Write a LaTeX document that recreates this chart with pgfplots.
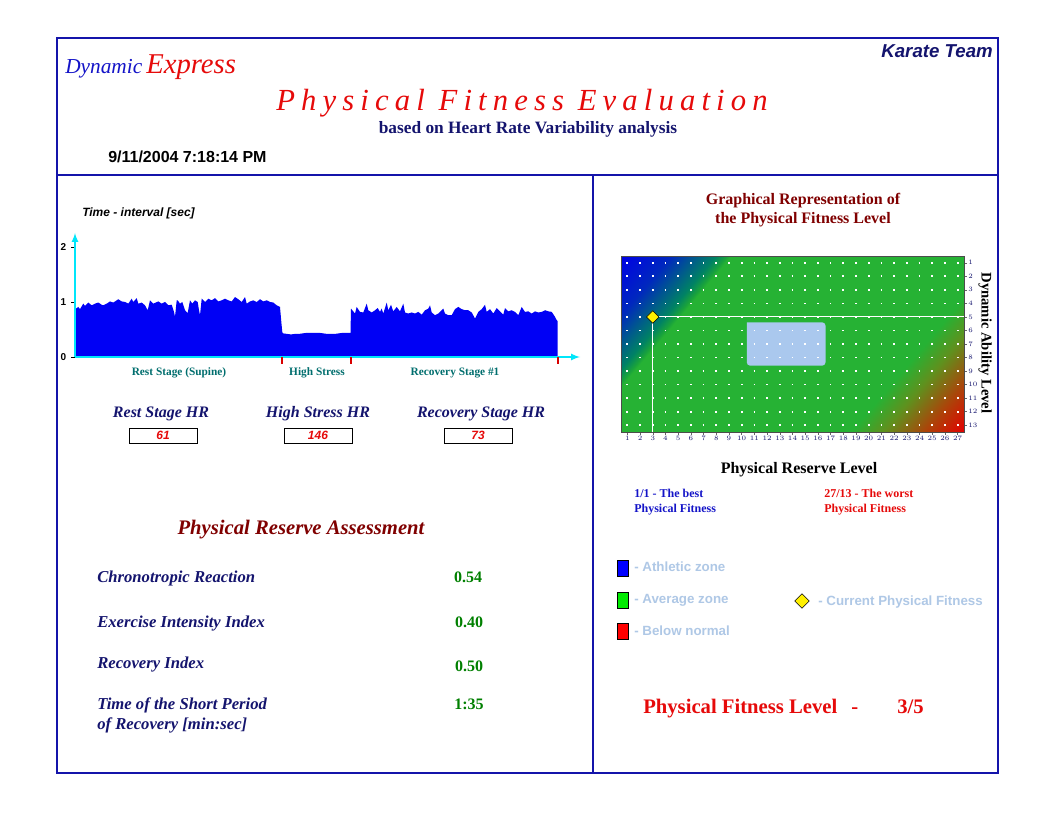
\documentclass[border=0pt]{standalone}
\usepackage{pgfplots}
\pgfplotsset{compat=1.18}
\usepackage{fontspec}
\setmainfont{Liberation Serif}
\setsansfont{Liberation Sans}
\newfontfamily\spaced[LetterSpace=20]{Liberation Serif}
\usetikzlibrary{shapes.geometric}

\newcommand{\fsz}[1]{\fontsize{#1}{#1}\selectfont}

\definecolor{frameblue}{RGB}{20,20,170}
\definecolor{navytxt}{RGB}{20,20,110}
\definecolor{dynblue}{RGB}{20,20,200}
\definecolor{tred}{RGB}{230,10,10}
\definecolor{darkred}{RGB}{128,0,0}
\definecolor{pgreen}{RGB}{0,128,0}
\definecolor{stageteal}{RGB}{0,110,110}
\definecolor{axcyan}{RGB}{0,230,250}
\definecolor{hrblue}{RGB}{0,0,245}
\definecolor{legtxt}{RGB}{175,200,230}
\definecolor{boxblue}{RGB}{170,200,238}
\definecolor{dotyellow}{RGB}{255,240,0}

% R-R interval trace, x in pixels from the y axis, y in seconds
\pgfplotstableread{
x y
0.5 0.86
1 0.88
3.3 0.91
5 0.87
8.3 0.97
10 0.93
13.3 0.99
16.7 0.94
20 0.97
23.3 0.99
26.7 0.95
28.3 0.94
31.7 0.97
35 1.01
38.3 0.99
43.3 1.05
46.7 1.01
50 1.00
53.3 0.97
56.7 1.06
58.3 1.00
61.7 1.07
63.3 0.97
66.7 0.99
70 0.94
72.7 0.85
75 1.03
78.3 0.97
83.3 1.01
86.7 0.97
90 1.00
93.3 0.94
96.7 0.95
99 0.82
100 0.73
101.7 1.03
102.7 1.03
105 0.97
107.3 1.00
110 0.85
112.7 0.80
115 1.03
117.3 0.97
120 1.03
122.7 1.00
124 0.85
125 0.76
126.7 1.06
130 1.00
133.3 1.06
136.7 1.03
140 1.07
143.3 1.01
146.7 1.03
150 1.06
153.3 1.03
156.7 1.01
160 1.09
163.3 1.05
166.7 1.00
170 1.09
171.7 0.97
175 1.01
178.3 1.03
181.7 1.00
185 1.05
188.3 1.01
191.7 1.03
195 1.00
198.3 0.99
201.7 0.94
205 0.91
206.3 0.64
207.3 0.45
208 0.43
212 0.42
216 0.41
220 0.42
224 0.42
228 0.43
232 0.44
236 0.44
240 0.44
244 0.44
248 0.43
252 0.42
256 0.42
260 0.42
264 0.43
268 0.44
272 0.44
275.5 0.44
276 0.88
280 0.79
281.7 0.91
285 0.82
288.3 0.81
291.7 0.97
293.3 0.85
296.7 0.81
300 0.85
302.7 0.89
305 0.82
306.7 0.88
308.3 0.79
311.7 0.99
313.3 0.85
316 0.95
318.3 0.83
321.7 0.91
325 0.83
328.3 0.97
330 0.81
333.3 0.79
336.7 0.81
340 0.79
343.3 0.82
346.7 0.77
350 0.85
353.3 0.88
355 0.94
356.7 0.81
360 0.76
363.3 0.79
366.7 0.85
368.3 0.88
370 0.79
373.3 0.76
376.7 0.76
380 0.87
383.3 0.91
386.7 0.87
390 0.85
393.3 0.85
396.7 0.81
400 0.70
403.3 0.82
406.7 0.87
410 0.95
411.7 0.82
415 0.87
418.3 0.79
421.7 0.89
425 0.83
428.3 0.77
430 0.89
433.3 0.83
436.7 0.85
440 0.82
443.3 0.76
446.7 0.91
450 0.82
453.3 0.83
456.7 0.79
460 0.83
463.3 0.81
466.7 0.82
470 0.85
473.3 0.83
476.7 0.82
480 0.73
481.7 0.67
482.7 0.65
}\rrdata

\begin{document}
\begin{tikzpicture}
% page-pixel coordinates: 1px = 0.75pt, y down
\begin{scope}[x=0.75pt, y=-0.75pt]
\fill[white] (0,0) rectangle (1056,816);
\path[use as bounding box] (0,0) rectangle (1056,816);

% frame
\draw[frameblue, line width=0.8pt] (57,38) rectangle (998,773);
\draw[frameblue, line width=0.8pt] (57,175) -- (998,175);
\draw[frameblue, line width=1.4pt] (593,175) -- (593,773);

% header
\node[anchor=base west, inner sep=0, text=dynblue, font=\itshape\fsz{16}] at (65,74) {Dynamic};
\node[anchor=base west, inner sep=0, text=tred, font=\itshape\fsz{21.5}] at (146,74) {Express};
\node[anchor=base east, inner sep=0, text=navytxt, font=\sffamily\bfseries\itshape\fsz{14}] at (993,58) {Karate Team};
\node[anchor=base, inner sep=0, text=tred, font=\spaced\itshape\fsz{23}] at (522,111) {Physical Fitness Evaluation};
\node[anchor=base, inner sep=0, text=navytxt, font=\bfseries\fsz{13}] at (528,134) {based on Heart Rate Variability analysis};
\node[anchor=base west, inner sep=0, font=\sffamily\bfseries\fsz{12}] at (108,163) {9/11/2004 7:18:14 PM};

\node[anchor=base west, inner sep=0, font=\sffamily\bfseries\itshape\fsz{9}] at (82,217) {Time - interval [sec]};
\node[anchor=base, inner sep=0, text=stageteal, font=\bfseries\fsz{8.5}] at (179,375) {Rest Stage (Supine)};
\node[anchor=base, inner sep=0, text=stageteal, font=\bfseries\fsz{8.5}] at (317,375) {High Stress};
\node[anchor=base, inner sep=0, text=stageteal, font=\bfseries\fsz{8.5}] at (455,375) {Recovery Stage \#1};

% stage heart rates
\node[anchor=base, inner sep=0, text=navytxt, font=\bfseries\itshape\fsz{12}] at (161,417) {Rest Stage HR};
\node[anchor=base, inner sep=0, text=navytxt, font=\bfseries\itshape\fsz{12}] at (318,417) {High Stress HR};
\node[anchor=base, inner sep=0, text=navytxt, font=\bfseries\itshape\fsz{12}] at (481,417) {Recovery Stage HR};
\draw[black, line width=0.6pt] (129,428) rectangle (197,443);
\draw[black, line width=0.6pt] (284,428) rectangle (352,443);
\draw[black, line width=0.6pt] (444,428) rectangle (512,443);
\node[text=tred, font=\sffamily\bfseries\itshape\fsz{9}] at (163,435.5) {61};
\node[text=tred, font=\sffamily\bfseries\itshape\fsz{9}] at (318,435.5) {146};
\node[text=tred, font=\sffamily\bfseries\itshape\fsz{9}] at (478,435.5) {73};

% assessment
\node[anchor=base, inner sep=0, text=darkred, font=\bfseries\itshape\fsz{15.5}] at (301,534) {Physical Reserve Assessment};
\node[anchor=base west, inner sep=0, text=navytxt, font=\bfseries\itshape\fsz{12.5}] at (97,582) {Chronotropic Reaction};
\node[anchor=base west, inner sep=0, text=navytxt, font=\bfseries\itshape\fsz{12.5}] at (97,627) {Exercise Intensity Index};
\node[anchor=base west, inner sep=0, text=navytxt, font=\bfseries\itshape\fsz{12.5}] at (97,668) {Recovery Index};
\node[anchor=base west, inner sep=0, text=navytxt, font=\bfseries\itshape\fsz{12.5}] at (97,709) {Time of the Short Period};
\node[anchor=base west, inner sep=0, text=navytxt, font=\bfseries\itshape\fsz{12.5}] at (97,729) {of Recovery [min:sec]};
\node[anchor=base, inner sep=0, text=pgreen, font=\bfseries\fsz{12}] at (468,582) {0.54};
\node[anchor=base, inner sep=0, text=pgreen, font=\bfseries\fsz{12}] at (469,627) {0.40};
\node[anchor=base, inner sep=0, text=pgreen, font=\bfseries\fsz{12}] at (469,671) {0.50};
\node[anchor=base, inner sep=0, text=pgreen, font=\bfseries\fsz{12}] at (469,709) {1:35};

% right panel
\node[anchor=base, inner sep=0, text=darkred, font=\bfseries\fsz{12}] at (803,205) {Graphical Representation of};
\node[anchor=base, inner sep=0, text=darkred, font=\bfseries\fsz{12}] at (803,224) {the Physical Fitness Level};
\node[rotate=-90, inner sep=0, font=\bfseries\fsz{11}] at (985,343) {Dynamic Ability Level};

\node[anchor=base, inner sep=0, font=\bfseries\fsz{12}] at (799,473) {Physical Reserve Level};
\node[anchor=base west, inner sep=0, text=dynblue, font=\bfseries\fsz{9}] at (634,497) {1/1 - The best};
\node[anchor=base west, inner sep=0, text=dynblue, font=\bfseries\fsz{9}] at (634,512) {Physical Fitness};
\node[anchor=base west, inner sep=0, text=tred, font=\bfseries\fsz{9}] at (824,497) {27/13 - The worst};
\node[anchor=base west, inner sep=0, text=tred, font=\bfseries\fsz{9}] at (824,512) {Physical Fitness};

% legend
\draw[black, fill={rgb,255:red,0;green,0;blue,255}, line width=0.5pt] (617,560) rectangle (628,576);
\draw[black, fill={rgb,255:red,0;green,235;blue,0}, line width=0.5pt] (617,592) rectangle (628,608);
\draw[black, fill={rgb,255:red,255;green,0;blue,0}, line width=0.5pt] (617,623) rectangle (628,639);
\node[anchor=base west, inner sep=0, text=legtxt, font=\sffamily\bfseries\fsz{10}] at (634,571) {- Athletic zone};
\node[anchor=base west, inner sep=0, text=legtxt, font=\sffamily\bfseries\fsz{10}] at (634,603) {- Average zone};
\node[anchor=base west, inner sep=0, text=legtxt, font=\sffamily\bfseries\fsz{10}] at (634,635) {- Below normal};
\node[diamond, draw=black, fill=dotyellow, inner sep=0, minimum width=11pt, minimum height=11pt, line width=0.4pt] at (802,601) {};
\node[anchor=base west, inner sep=0, text=legtxt, font=\sffamily\bfseries\fsz{10}] at (818,605) {- Current Physical Fitness};

\node[anchor=base west, inner sep=0, text=tred, font=\bfseries\fsz{15.5}] at (643,713) {Physical Fitness Level};
\node[anchor=base west, inner sep=0, text=tred, font=\bfseries\fsz{15.5}] at (851,713) {-};
\node[anchor=base west, inner sep=0, text=tred, font=\bfseries\fsz{15.5}] at (897,713) {3/5};
\end{scope}

% heart rate trace (origin at page pixel 75,357)
\begin{axis}[at={(56.25pt,-267.75pt)}, anchor=south west, scale only axis,
  width=378.75pt, height=93pt,
  xmin=0, xmax=505, ymin=0, ymax=2.2545,
  axis lines=left, axis on top,
  axis line style={axcyan, line width=1.3pt, -latex},
  xtick=\empty, ytick={0,1,2}, yticklabels={0,1,2},
  yticklabel style={font=\sffamily\bfseries\fsz{7.5}},
  tick align=outside, major tick length=3pt,
  tick style={black, line width=0.5pt},
  extra x ticks={207,276,483}, extra x tick labels={},
  extra x tick style={major tick length=5pt, tick style={draw=red!85!black, line width=1.3pt}},
  clip=false]
\addplot[fill=hrblue, draw=none] table[x=x, y=y] {\rrdata} \closedcycle;
\end{axis}

% fitness map (lower left corner at page pixel 621,432)
\begin{axis}[at={(465.75pt,-324pt)}, anchor=south west, scale only axis,
  width=257.25pt, height=132pt,
  xmin=0.5, xmax=27.5, ymin=0.5, ymax=13.5, y dir=reverse,
  xtick={1,...,27}, ytick={1,...,13}, yticklabel pos=right,
  xtick pos=bottom, ytick pos=right,
  tick align=outside, major tick length=2pt,
  tick style={black!60, line width=0.3pt},
  ticklabel style={font=\fsz{4.5}, text=navytxt, inner sep=1pt},
  ymajorgrids,
  major grid style={white, line width=1.3pt, dash pattern=on 1.3pt off 8.228pt, dash phase=5.414pt},
  axis on top, axis line style={black!70, line width=0.4pt},
  colormap={fitness}{rgb255(0pt)=(0,0,230); rgb255(50pt)=(0,40,190);
    rgb255(72pt)=(0,85,145); rgb255(95pt)=(0,130,100);
    rgb255(106pt)=(25,162,60); rgb255(110pt)=(38,178,52);
    rgb255(378pt)=(38,178,52); rgb255(410pt)=(95,145,30);
    rgb255(450pt)=(170,70,10); rgb255(491pt)=(228,0,0)},
  point meta min=0, point meta max=491]
\addplot[patch, shader=interp, point meta=explicit] table[meta=c] {
x y c
0.5 0.5 0
27.5 0.5 343
0.5 13.5 148
27.5 0.5 343
27.5 13.5 491
0.5 13.5 148
};
\addplot[fill=boxblue, draw=none, rounded corners=2.5pt] coordinates {
(10.4,5.4) (16.6,5.4) (16.6,8.6) (10.4,8.6) (10.4,5.4)};
\end{axis}
\begin{axis}[at={(465.75pt,-324pt)}, anchor=south west, scale only axis,
  width=257.25pt, height=132pt,
  xmin=0.5, xmax=27.5, ymin=0.5, ymax=13.5, y dir=reverse,
  axis lines=none, clip=false]
\addplot[white, line width=0.8pt] coordinates {(3,13.5) (3,5) (27.5,5)};
\addplot[only marks, mark=square*, mark size=3.3pt,
  mark options={rotate=45, fill=dotyellow, draw=black, line width=0.4pt}] coordinates {(3,5)};
\end{axis}
\end{tikzpicture}
\end{document}
